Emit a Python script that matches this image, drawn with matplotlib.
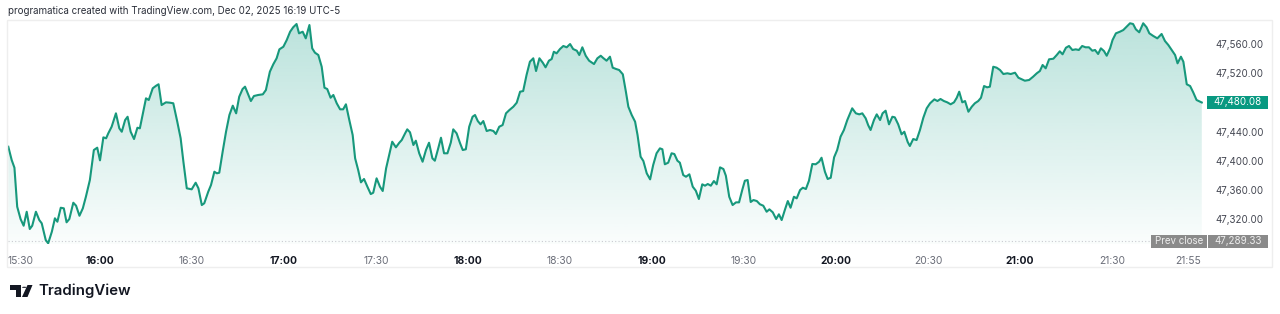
import numpy as np
import matplotlib
matplotlib.use("Agg")
import matplotlib.pyplot as plt
from matplotlib.patches import Rectangle, Circle, Polygon
from matplotlib.transforms import blended_transform_factory

plt.rcParams['font.family'] = ['Inter', 'DejaVu Sans']

# ---- data: minutes after 15:30 and index price ----
minutes = [
    0.1, 1.2, 2.1, 3.0, 4.1, 5.1, 6.1, 7.1, 7.9, 9.1, 10.2, 11.0, 12.3, 13.1, 14.3, 15.3,
    16.1, 17.2, 18.2, 19.1, 20.0, 21.3, 22.2, 23.3, 24.4, 25.4, 26.7, 28.0, 29.1, 30.0,
    31.1, 32.0, 32.7, 33.8, 35.2, 36.3, 37.1, 38.2, 39.0, 40.0, 41.1, 42.2, 43.0, 45.0,
    45.9, 47.2, 48.3, 49.1, 50.1, 51.5, 52.8, 53.9, 55.2, 56.3, 57.2, 58.3, 59.9, 61.2,
    62.1, 63.2, 64.0, 65.3, 66.2, 67.3, 68.1, 68.9, 70.0, 71.1, 72.2, 73.3, 74.4, 75.4,
    76.5, 77.3, 78.4, 79.2, 80.2, 81.6, 83.1, 84.1, 85.4, 86.5, 87.6, 88.5, 89.8, 90.9,
    92.0, 93.0, 94.1, 94.9, 96.1, 97.1, 98.3, 99.2, 100.1, 101.2, 102.3, 103.2, 104.1,
    105.2, 106.1, 107.2, 108.3, 109.3, 110.2, 111.3, 112.4, 113.2, 114.2, 115.1, 116.1,
    117.2, 118.3, 119.1, 120.2, 121.3, 122.2, 123.3, 124.3, 125.3, 126.5, 127.6, 128.4,
    129.5, 130.2, 131.1, 132.2, 133.0, 134.1, 135.2, 136.3, 137.3, 138.4, 139.2, 140.3,
    141.2, 142.2, 143.3, 144.4, 145.2, 146.3, 147.4, 148.3, 149.3, 150.4, 151.5, 152.3,
    153.2, 154.1, 155.0, 156.1, 157.2, 158.3, 159.1, 160.2, 161.3, 162.4, 163.5, 164.8,
    165.9, 167.0, 168.0, 169.1, 170.2, 171.3, 172.2, 173.3, 174.4, 175.3, 176.4, 177.3,
    178.0, 178.9, 180.0, 181.1, 182.2, 183.3, 184.3, 185.5, 186.3, 187.3, 188.4, 189.5,
    191.1, 192.2, 193.3, 194.1, 195.2, 196.3, 197.2, 198.3, 199.3, 200.5, 201.5, 202.3,
    203.4, 204.5, 205.3, 206.3, 207.2, 208.3, 209.4, 210.4, 211.5, 212.6, 213.4, 214.2,
    215.3, 216.4, 217.3, 218.3, 219.1, 220.2, 221.1, 222.2, 223.3, 224.3, 225.3, 226.4,
    227.3, 228.2, 229.2, 230.2, 231.1, 232.2, 233.3, 234.1, 235.2, 236.3, 237.4, 238.4,
    239.5, 240.3, 241.2, 242.2, 243.1, 244.2, 245.2, 246.3, 247.4, 248.3, 249.4, 250.5,
    251.4, 252.3, 253.4, 254.3, 255.2, 256.3, 257.2, 258.3, 259.2, 260.2, 261.2, 262.3,
    263.4, 264.5, 265.3, 266.4, 267.3, 268.3, 269.4, 270.4, 271.5, 272.6, 273.7, 275.3,
    276.5, 277.6, 278.6, 279.7, 280.5, 281.3, 282.4, 283.3, 284.4, 285.2, 286.2, 287.3,
    288.4, 289.2, 290.3, 291.4, 292.3, 293.4, 294.1, 295.2, 296.3, 297.4, 298.5, 299.6,
    300.7, 302.1, 303.1, 304.1, 305.2, 306.3, 307.4, 308.5, 309.4, 310.2, 311.2, 312.1,
    313.2, 314.3, 315.3, 316.4, 317.3, 318.3, 319.3, 320.2, 321.3, 322.4, 323.5, 324.6,
    325.9, 327.0, 328.4, 329.5, 330.6, 331.6, 333.0, 334.3, 335.5, 336.5, 337.4, 338.4,
    339.5, 340.9, 342.0, 343.0, 343.9, 345.0, 346.0, 347.1, 348.2, 349.2, 350.3, 351.4,
    352.5, 353.6, 354.5, 355.5, 356.4, 357.4, 358.3, 359.4, 360.2, 361.3, 362.6, 363.7,
    364.8, 365.9, 366.9, 367.8, 368.9, 370.2, 371.3, 372.2, 373.5, 374.8, 376.2, 377.3,
    378.4, 379.5, 380.6, 381.4, 382.5, 383.3, 384.4, 385.5, 386.5, 387.6, 389.3,
]
prices = [
    47419.3, 47401.1, 47390.5, 47336.9, 47320.0, 47310.8, 47330.0, 47306.3, 47310.8, 47330.0,
    47318.6, 47314.1, 47291.2, 47286.6, 47302.6, 47321.0, 47316.3, 47335.5, 47334.7, 47315.5,
    47320.0, 47342.4, 47338.3, 47324.5, 47334.7, 47350.6, 47373.6, 47414.8, 47418.0, 47400.6,
    47432.2, 47430.9, 47437.7, 47446.8, 47465.2, 47444.6, 47439.9, 47456.0, 47460.5, 47439.9,
    47429.9, 47445.4, 47444.6, 47485.8, 47483.5, 47499.6, 47503.1, 47505.1, 47476.6, 47480.3,
    47479.8, 47479.0, 47453.7, 47430.9, 47398.7, 47362.2, 47360.8, 47369.9, 47362.2, 47339.2,
    47341.6, 47357.5, 47366.7, 47385.0, 47382.8, 47383.6, 47412.5, 47439.9, 47462.9, 47475.7,
    47465.2, 47488.0, 47498.6, 47501.8, 47490.4, 47482.1, 47489.0, 47490.4, 47491.3, 47497.2,
    47522.4, 47532.5, 47540.8, 47553.1, 47556.7, 47565.9, 47577.3, 47583.4, 47587.9, 47575.1,
    47577.3, 47568.2, 47586.5, 47554.5, 47548.5, 47545.3, 47529.2, 47500.4, 47498.6, 47486.6,
    47490.4, 47479.0, 47470.7, 47470.7, 47477.6, 47456.0, 47435.4, 47403.4, 47387.3, 47370.4,
    47375.0, 47364.4, 47354.3, 47356.1, 47375.9, 47364.4, 47358.5, 47389.6, 47407.9, 47426.2,
    47418.5, 47424.8, 47428.5, 47437.7, 47443.2, 47439.1, 47421.7, 47427.6, 47410.3, 47398.7,
    47414.8, 47424.8, 47403.4, 47400.1, 47417.1, 47431.7, 47410.3, 47410.3, 47425.0, 47443.2,
    47437.7, 47424.4, 47414.8, 47415.8, 47446.8, 47460.5, 47462.9, 47454.6, 47450.1, 47454.6,
    47440.9, 47442.3, 47440.9, 47436.8, 47446.8, 47449.1, 47465.2, 47469.7, 47474.3, 47479.8,
    47494.9, 47495.8, 47517.8, 47536.1, 47540.8, 47523.3, 47540.8, 47534.7, 47528.4, 47537.5,
    47539.8, 47549.8, 47547.6, 47553.5, 47557.7, 47555.9, 47560.4, 47553.5, 47551.2, 47545.3,
    47555.9, 47544.3, 47537.5, 47532.9, 47540.8, 47544.3, 47541.2, 47537.5, 47543.0, 47527.9,
    47526.1, 47524.7, 47518.8, 47494.9, 47474.3, 47462.9, 47453.7, 47435.4, 47405.6, 47399.7,
    47382.8, 47374.5, 47394.2, 47410.3, 47417.1, 47415.8, 47395.2, 47397.4, 47410.3, 47409.3,
    47400.1, 47397.4, 47380.4, 47378.1, 47381.4, 47364.4, 47358.9, 47347.5, 47367.7, 47365.8,
    47368.1, 47365.8, 47372.2, 47367.7, 47391.0, 47388.7, 47379.5, 47350.6, 47339.2, 47342.9,
    47342.9, 47360.8, 47372.6, 47373.6, 47343.4, 47346.1, 47344.7, 47340.3, 47338.3, 47330.0,
    47333.3, 47329.2, 47320.0, 47326.5, 47318.6, 47333.3, 47344.7, 47335.5, 47350.6, 47348.4,
    47359.8, 47363.0, 47361.2, 47372.6, 47395.6, 47395.2, 47398.7, 47404.2, 47385.0, 47375.0,
    47376.7, 47404.8, 47414.8, 47433.1, 47442.3, 47456.0, 47472.1, 47465.2, 47463.8, 47465.2,
    47458.3, 47449.1, 47442.3, 47456.0, 47463.8, 47456.0, 47465.2, 47468.8, 47450.1, 47460.5,
    47459.7, 47450.1, 47436.4, 47439.9, 47425.8, 47420.3, 47429.9, 47428.5, 47442.3, 47459.2,
    47472.1, 47479.0, 47484.4, 47482.1, 47484.9, 47482.1, 47480.3, 47477.6, 47480.3, 47486.6,
    47494.9, 47480.3, 47482.1, 47467.4, 47474.3, 47479.0, 47482.1, 47486.6, 47502.7, 47500.9,
    47501.8, 47529.2, 47527.9, 47524.7, 47519.2, 47520.2, 47519.2, 47521.0, 47514.1, 47511.9,
    47510.0, 47511.0, 47515.5, 47520.2, 47523.3, 47531.6, 47527.0, 47539.4, 47540.2, 47545.3,
    47550.4, 47546.3, 47555.3, 47557.7, 47552.2, 47553.1, 47552.2, 47557.7, 47555.9, 47555.9,
    47551.2, 47552.2, 47546.7, 47554.5, 47550.8, 47544.3, 47554.5, 47565.9, 47575.1, 47577.3,
    47579.6, 47584.2, 47588.9, 47587.9, 47580.6, 47576.5, 47588.9, 47583.4, 47575.1, 47571.4,
    47568.2, 47574.2, 47564.5, 47559.0, 47552.2, 47545.3, 47533.9, 47543.0, 47536.1, 47505.1,
    47502.7, 47494.1, 47483.5, 47480.08,
]
last_price = 47480.08
prev_close = 47289.33

tick_minutes = [0, 30, 60, 90, 120, 150, 180, 210, 240, 270, 300, 330, 360, 385]
tick_labels = ['15:30', '16:00', '16:30', '17:00', '17:30', '18:00', '18:30', '19:00',
               '19:30', '20:00', '20:30', '21:00', '21:30', '21:55']
price_ticks = [47320, 47360, 47400, 47440, 47520, 47560]

header = 'programatica created with TradingView.com, Dec 02, 2025 16:19 UTC-5'

# ---- style ----
GREEN = '#089981'
LINE = '#17987c'
W, H = 1280, 314
x_lo, x_hi = 0, 389.7
y_lo, y_hi = 47285.7, 47593.4

fig = plt.figure(figsize=(W / 100, H / 100), dpi=100)
fig.patch.set_facecolor('white')

# light frame around the chart
fig.patches.append(Rectangle((7 / W, 1 - 267 / H), 1265 / W, 247 / H,
                             transform=fig.transFigure, fill=False,
                             ec='#eeeeee', lw=1))

ax = fig.add_axes([8 / W, 1 - 244 / H, 1195 / W, 224 / H])
for s in ax.spines.values():
    s.set_visible(False)

# gradient area under the line
poly = ax.fill_between(minutes, prices, y_lo, color='none', lw=0)
rgb = matplotlib.colors.to_rgb(GREEN)
grad = np.zeros((256, 1, 4))
grad[..., :3] = rgb
grad[..., 3] = np.linspace(0.28, 0.02, 256)[:, None]
im = ax.imshow(grad, aspect='auto', extent=[x_lo, x_hi, y_lo, y_hi],
               origin='upper', zorder=1)
im.set_clip_path(poly.get_paths()[0], transform=ax.transData)

ax.plot(minutes, prices, color=LINE, lw=1.5, zorder=3, solid_joinstyle='round')

# prev close dotted line
ax.axhline(prev_close, color='#c9cbd1', lw=0.8, ls=(0, (1, 2)), zorder=2)

ax.set_xlim(x_lo, x_hi)
ax.set_ylim(y_lo, y_hi)

# time axis
ax.set_xticks(tick_minutes)
ax.set_xticklabels(tick_labels)
ax.tick_params(axis='x', length=0, pad=8.5, labelsize=7.4, colors='#6a6d78')
for t, lab in zip(tick_minutes, ax.get_xticklabels()):
    if t % 60 == 30:
        lab.set_fontweight('bold')
        lab.set_color('#131722')
ax.get_xticklabels()[0].set_horizontalalignment('left')

# price axis
ax.yaxis.tick_right()
ax.set_yticks(price_ticks)
ax.set_yticklabels(['{:,.2f}'.format(p) for p in price_ticks])
ax.tick_params(axis='y', length=0, pad=9, labelsize=7.0, colors='#434651')

# price tags on the right
ax_h_px = 224.0
upp = (y_hi - y_lo) / ax_h_px
bt = blended_transform_factory(ax.transAxes, ax.transData)
ax_w_px = 1195.0

def tag(x0_px, x1_px, y, text, fc, tc):
    # x in pixels from axes left edge, y in data units
    x0 = x0_px / ax_w_px
    w = (x1_px - x0_px) / ax_w_px
    ax.add_patch(Rectangle((x0, y - 6.3 * upp), w, 12.6 * upp, transform=bt,
                           fc=fc, ec='none', clip_on=False, zorder=5))
    ax.text(x0 + w / 2, y, text, transform=bt, ha='center', va='center',
            fontsize=7.0, color=tc, clip_on=False, zorder=6)

tag(1199, 1260, last_price, '{:,.2f}'.format(last_price), GREEN, 'white')
tag(1143, 1198.5, prev_close, 'Prev close', '#8a8a8a', '#eeeeee')
tag(1199.5, 1260, prev_close, '{:,.2f}'.format(prev_close), '#8a8a8a', '#eeeeee')

# header text
fig.text(8 / W, 1 - 11 / H, header, fontsize=7.0, color='#2a2e39', va='center')

# TradingView logo
logo = '#131722'
fig.patches.append(Rectangle((9.5 / W, 1 - 289.5 / H), 11.5 / W, 4.5 / H,
                             transform=fig.transFigure, fc=logo, ec='none'))
fig.patches.append(Rectangle((15.5 / W, 1 - 297 / H), 5.5 / W, 12 / H,
                             transform=fig.transFigure, fc=logo, ec='none'))
fig.patches.append(Circle((24.3 / W, 1 - 287.3 / H), 2.3 / W,
                          transform=fig.transFigure, fc=logo, ec='none'))
fig.patches.append(Polygon([(27.5 / W, 1 - 285 / H), (32.5 / W, 1 - 285 / H),
                            (27.5 / W, 1 - 297 / H), (22.0 / W, 1 - 297 / H)],
                           closed=True, transform=fig.transFigure, fc=logo, ec='none'))
fig.text(38.5 / W, 1 - 291 / H, 'TradingView', fontsize=10.8, fontweight='semibold',
         color=logo, va='center')

fig.savefig('out.png', dpi=100)
